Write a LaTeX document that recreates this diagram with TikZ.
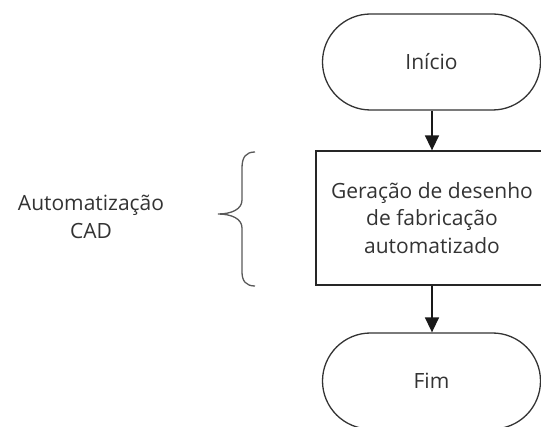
\documentclass[tikz,border=0pt]{standalone}
\usepackage{fontspec}
\setmainfont{Open Sans}
\usetikzlibrary{arrows.meta}
\begin{document}
\begin{tikzpicture}[x=1pt,y=-1pt,
  txt/.style={text=black!80, font=\fontsize{21}{27.5}\selectfont, align=center},
  term/.style={draw=black!80, line width=1.3pt, rounded corners=48pt, minimum width=218pt, minimum height=96pt, txt},
  proc/.style={draw=black!85, line width=1.3pt, minimum width=232pt, minimum height=134pt, txt},
  flow/.style={draw=black!90, line width=1.5pt, -{Triangle[width=14pt,length=15pt]}},
  bracestyle/.style={draw=black!65, line width=1.3pt}]
\useasboundingbox (0,0) rectangle (541,427);
\clip (0,0) rectangle (541,427);
\node[term] (inicio) at (431.5,62) {Início};
\node[proc] (gera) at (432,218) {Geração de desenho\\de fabricação\\automatizado};
\node[term] (fim) at (431.5,381) {Fim};
\draw[flow] (inicio.south -| gera.north) -- (gera.north);
\draw[flow] (gera.south) -- (fim.north -| gera.south);
\node[txt] (cad) at (91,217) {Automatização\\CAD};
\coordinate (btip) at (218,214);
\draw[bracestyle] (255,152) .. controls (246,152) and (242,157) .. (242,168)
  -- (242,200) .. controls (242,209) and (232,214) .. (btip)
  .. controls (232,214) and (242,219) .. (242,228)
  -- (242,272) .. controls (242,281) and (246,286) .. (255,286);
\end{tikzpicture}
\end{document}
